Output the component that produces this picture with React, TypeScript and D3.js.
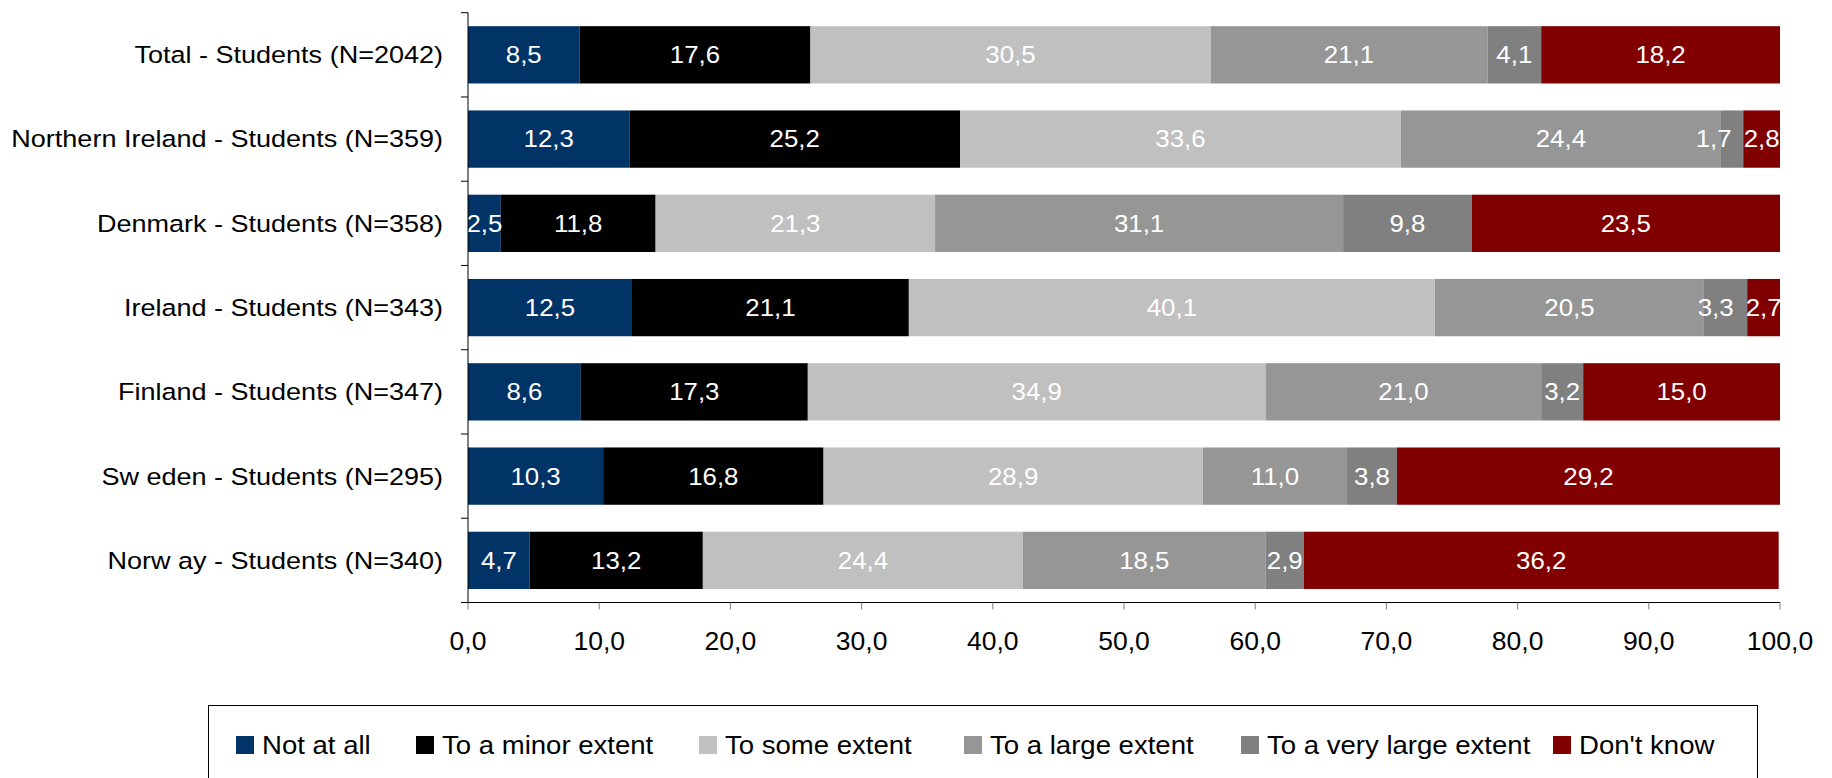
import React from "react";
import * as d3 from "d3";

const categories = [
  "Total - Students (N=2042)",
  "Northern Ireland - Students (N=359)",
  "Denmark - Students (N=358)",
  "Ireland - Students (N=343)",
  "Finland - Students (N=347)",
  "Sw eden - Students (N=295)",
  "Norw ay - Students (N=340)",
];

const seriesNames = [
  "Not at all",
  "To a minor extent",
  "To some extent",
  "To a large extent",
  "To a very large extent",
  "Don't know",
];

const notAtAll = [8.5, 12.3, 2.5, 12.5, 8.6, 10.3, 4.7];
const minorExtent = [17.6, 25.2, 11.8, 21.1, 17.3, 16.8, 13.2];
const someExtent = [30.5, 33.6, 21.3, 40.1, 34.9, 28.9, 24.4];
const largeExtent = [21.1, 24.4, 31.1, 20.5, 21.0, 11.0, 18.5];
const veryLargeExtent = [4.1, 1.7, 9.8, 3.3, 3.2, 3.8, 2.9];
const dontKnow = [18.2, 2.8, 23.5, 2.7, 15.0, 29.2, 36.2];

const xTickValues = [0, 10, 20, 30, 40, 50, 60, 70, 80, 90, 100];

const colors = ["#003366", "#000000", "#C0C0C0", "#969696", "#808080", "#800000"];

const W = 1832;
const H = 778;
const plotLeft = 468;
const plotRight = 1780;
const plotTop = 12.7;
const plotBottom = 602.5;
const FONT = "'Liberation Sans', Arial, sans-serif";
const LABEL_STRETCH = 1.15;
const DATA_STRETCH = 1.1;
const DATA_FONT = 23.5;
const LABEL_GAP = 12;

const legendSquareX = [236, 416, 699, 964, 1241, 1553];

function labelWidth(s: string) {
  let w = 0;
  for (const ch of s) w += ch === "," ? 0.278 : 0.556;
  return w * DATA_FONT * DATA_STRETCH;
}

export default function App() {
  const seriesValues = [notAtAll, minorExtent, someExtent, largeExtent, veryLargeExtent, dontKnow];
  const rows = categories.map((c, i) => {
    const r: any = { category: c };
    seriesNames.forEach((s, j) => (r[s] = seriesValues[j][i]));
    return r;
  });
  const stacked = d3.stack<any>().keys(seriesNames)(rows);

  const x = d3.scaleLinear().domain([0, 100]).range([plotLeft, plotRight]);
  const y = d3
    .scaleBand<string>()
    .domain(categories)
    .range([plotTop, plotBottom])
    .paddingInner(0.32)
    .paddingOuter(0.16);
  const step = y.step();
  const fmt = (v: number) => d3.format(".1f")(v).replace(".", ",");

  // data labels, with a simple right-to-left collision pass per row
  const labels: { text: string; cx: number; cy: number; key: string }[] = [];
  categories.forEach((c, ci) => {
    const row = stacked.map((layer, si) => {
      const d = layer[ci];
      const text = fmt(seriesValues[si][ci]);
      return {
        text,
        w: labelWidth(text),
        cx: (x(d[0]) + x(Math.min(100, d[1]))) / 2,
      };
    });
    for (let i = row.length - 2; i >= 0; i--) {
      const nextLeft = row[i + 1].cx - row[i + 1].w / 2;
      if (row[i].cx + row[i].w / 2 > nextLeft - LABEL_GAP) {
        row[i].cx = nextLeft - LABEL_GAP - row[i].w / 2;
      }
    }
    const cy = (y(c) as number) + y.bandwidth() / 2 + 8.4;
    row.forEach((r, si) => labels.push({ text: r.text, cx: r.cx, cy, key: `${ci}-${si}` }));
  });

  return (
    <svg
      width={W}
      height={H}
      style={{ position: "absolute", left: 0, top: 0, display: "block", background: "#fff" }}
      fontFamily={FONT}
    >
      <defs>
        <clipPath id="plotclip">
          <rect x={plotLeft} y={0} width={plotRight - plotLeft} height={plotBottom} />
        </clipPath>
      </defs>
      <g clipPath="url(#plotclip)">
        {stacked.map((layer, si) => (
          <g key={si} fill={colors[si]}>
            {layer.map((d, ci) => (
              <rect
                key={ci}
                x={x(d[0])}
                y={y(categories[ci])}
                width={Math.max(0, x(Math.min(100, d[1])) - x(d[0]))}
                height={y.bandwidth()}
              />
            ))}
          </g>
        ))}
      </g>
      {labels.map((l) => (
        <text
          key={l.key}
          transform={`translate(${l.cx},${l.cy}) scale(${DATA_STRETCH},1)`}
          textAnchor="middle"
          fontSize={DATA_FONT}
          fill="#fff"
        >
          {l.text}
        </text>
      ))}
      {/* y axis */}
      <line x1={plotLeft} x2={plotLeft} y1={plotTop} y2={plotBottom} stroke="#000" strokeWidth={1} />
      {d3.range(categories.length + 1).map((i) => (
        <line
          key={i}
          x1={plotLeft - 7}
          x2={plotLeft}
          y1={plotTop + i * step}
          y2={plotTop + i * step}
          stroke="#000"
        />
      ))}
      {categories.map((c) => (
        <text
          key={c}
          transform={`translate(443,${(y(c) as number) + y.bandwidth() / 2 + 8.4}) scale(${LABEL_STRETCH},1)`}
          textAnchor="end"
          fontSize={23.5}
          fill="#000"
        >
          {c}
        </text>
      ))}
      {/* x axis */}
      <line x1={plotLeft} x2={plotRight} y1={plotBottom} y2={plotBottom} stroke="#000" />
      {xTickValues.map((t) => (
        <g key={t}>
          <line x1={x(t)} x2={x(t)} y1={plotBottom} y2={plotBottom + 7} stroke="#808080" />
          <text x={x(t)} y={650} textAnchor="middle" fontSize={26.5} fill="#000">
            {fmt(t)}
          </text>
        </g>
      ))}
      {/* legend */}
      <rect x={208.5} y={705.5} width={1757 - 208} height={100} fill="none" stroke="#000" />
      {seriesNames.map((s, i) => (
        <g key={s}>
          <rect x={legendSquareX[i]} y={736} width={18} height={18} fill={colors[i]} />
          <text
            transform={`translate(${legendSquareX[i] + 26},753.5) scale(1.04,1)`}
            fontSize={26.5}
            fill="#000"
          >
            {s}
          </text>
        </g>
      ))}
    </svg>
  );
}
